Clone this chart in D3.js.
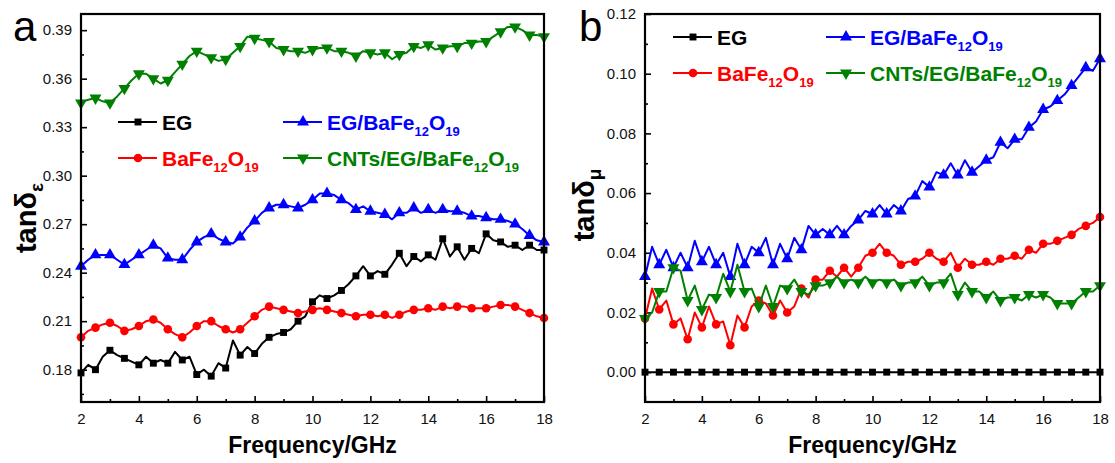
<!DOCTYPE html>
<html>
<head>
<meta charset="utf-8">
<script src="https://cdn.jsdelivr.net/npm/d3@7"></script>
<style>
  body { margin: 0; background: #fff; }
  text { font-family: Arial, "Liberation Sans", sans-serif; }
</style>
</head>
<body>
<svg width="1115" height="463"></svg>
<script>
const svg = d3.select('svg');

// frequency grid, GHz
const freq = d3.range(2, 18.001, 0.25);

const xTicks = [2, 4, 6, 8, 10, 12, 14, 16, 18];
const xMinor = [3, 5, 7, 9, 11, 13, 15, 17];
const epsTicks = [0.18, 0.21, 0.24, 0.27, 0.30, 0.33, 0.36, 0.39];
const epsMinor = [0.165, 0.195, 0.225, 0.255, 0.285, 0.315, 0.345, 0.375];
const muTicks = [0, 0.02, 0.04, 0.06, 0.08, 0.10, 0.12];
const muMinor = [0.01, 0.03, 0.05, 0.07, 0.09, 0.11];

// dielectric loss tangent (a)
const epsEG = [.178,.183,.180,.188,.192, .189,.187,.185,.183,.188, .184,.186,.184,.191,.186,
  .188,.177,.180,.176,.184, .181,.198,.189,.194,.190, .196,.200,.202,.203,.205,
  .210,.213,.222,.226,.224, .226,.229,.233,.238,.244, .238,.241,.239,.245,.252,
  .244,.250,.247,.251,.248, .261,.250,.256,.248,.255, .252,.264,.260,.259,.256,
  .257,.254,.257,.254,.254];
const epsBaFe = [.200,.204,.206,.208,.209, .207,.204,.205,.207,.210, .211,.209,.205,.202,.200,
  .203,.207,.210,.210,.207, .205,.203,.205,.209,.213, .217,.219,.218,.217,.216,
  .215,.216,.217,.218,.217, .216,.215,.214,.213,.214, .214,.213,.214,.212,.214,
  .216,.217,.217,.218,.217, .219,.218,.219,.219,.218, .218,.218,.219,.220,.220,
  .219,.217,.215,.213,.212];
const epsEGBaFe = [.244,.248,.251,.251,.251, .248,.245,.248,.251,.254, .257,.255,.249,.248,.248,
  .254,.259,.262,.264,.261, .259,.258,.262,.268,.272, .277,.280,.282,.282,.281,
  .280,.282,.285,.289,.289, .288,.285,.283,.279,.281, .278,.277,.276,.273,.277,
  .277,.280,.277,.279,.277, .279,.278,.278,.277,.275, .275,.274,.273,.273,.272,
  .270,.267,.263,.260,.259];
const epsCNT = [.345,.347,.348,.346,.345, .349,.354,.359,.363,.363, .360,.357,.359,.364,.369,
  .374,.377,.375,.373,.371, .372,.376,.380,.386,.385, .384,.383,.379,.378,.377,
  .377,.376,.378,.379,.379, .377,.377,.376,.374,.377, .376,.375,.376,.372,.375,
  .376,.380,.379,.381,.378, .379,.380,.380,.382,.382, .383,.383,.386,.389,.392,
  .392,.390,.387,.387,.386];

// magnetic loss tangent (b)
const muEG = [0,0,0,0,0, 0,0,0,0,0, 0,0,0,0,0, 0,0,0,0,0, 0,0,0,0,0, 0,0,0,0,0,
  0,0,0,0,0, 0,0,0,0,0, 0,0,0,0,0, 0,0,0,0,0, 0,0,0,0,0, 0,0,0,0,0, 0,0,0,0,0];
const muBaFe = [.018,.028,.021,.024,.016, .018,.011,.020,.015,.022, .016,.017,.009,.019,.015,
  .022,.024,.023,.019,.024, .020,.022,.028,.025,.031, .031,.034,.032,.035,.032,
  .035,.039,.040,.043,.040, .039,.036,.037,.037,.038, .040,.038,.037,.040,.035,
  .038,.036,.036,.037,.036, .038,.038,.039,.038,.041, .040,.043,.043,.044,.045,
  .046,.048,.049,.050,.052];
const muEGBaFe = [.032,.042,.036,.041,.035, .040,.035,.044,.037,.042, .036,.040,.032,.043,.036,
  .042,.040,.045,.036,.043, .038,.045,.041,.049,.046, .048,.046,.049,.046,.049,
  .051,.054,.053,.056,.053, .056,.054,.058,.059,.064, .062,.067,.066,.070,.066,
  .071,.067,.069,.071,.072, .077,.075,.078,.078,.082, .084,.088,.089,.091,.093,
  .096,.099,.102,.101,.105];
const muCNT = [.018,.020,.027,.027,.035, .034,.024,.029,.021,.026, .025,.033,.027,.036,.027,
  .028,.022,.029,.022,.029, .028,.031,.027,.026,.029, .029,.030,.032,.030,.031,
  .030,.032,.030,.031,.030, .031,.029,.030,.030,.032, .029,.030,.030,.033,.026,
  .030,.027,.027,.025,.027, .024,.025,.025,.024,.026, .025,.026,.025,.023,.023,
  .023,.025,.027,.027,.029];

const styles = {
  EG:     { color: '#000000', symbol: d3.symbolSquare,   size: 48, rot: 0,   label: [['EG', 0]] },
  BaFe:   { color: '#ff0000', symbol: d3.symbolCircle,   size: 58, rot: 0,   label: [['BaFe', 0], ['12', 1], ['O', 0], ['19', 1]] },
  EGBaFe: { color: '#0000ff', symbol: d3.symbolTriangle, size: 62, rot: 0,   label: [['EG/BaFe', 0], ['12', 1], ['O', 0], ['19', 1]] },
  CNT:    { color: '#008000', symbol: d3.symbolTriangle, size: 62, rot: 180, label: [['CNTs/EG/BaFe', 0], ['12', 1], ['O', 0], ['19', 1]] }
};

const marker = (sel, st, px, py) =>
  sel.append('path')
    .attr('d', d3.symbol().type(st.symbol).size(st.size)())
    .attr('transform', `translate(${px},${py}) rotate(${st.rot})`)
    .attr('fill', st.color);

const render = p => {
  const x = d3.scaleLinear().domain([2, 18]).range([p.left, p.right]);
  const y = d3.scaleLinear().domain(p.yDomain).range([p.bottom, p.top]);
  const g = svg.append('g');

  // axes
  g.append('g').attr('transform', `translate(0,${p.bottom})`)
    .call(d3.axisBottom(x).tickValues(xTicks).tickSize(-6).tickPadding(11).tickFormat(d3.format('d')));
  g.append('g').attr('transform', `translate(0,${p.bottom})`)
    .call(d3.axisBottom(x).tickValues(xMinor).tickSize(-3).tickFormat(''));
  g.append('g').attr('transform', `translate(${p.left},0)`)
    .call(d3.axisLeft(y).tickValues(p.ticks).tickSize(-6).tickPadding(9).tickFormat(d3.format('.2f')));
  g.append('g').attr('transform', `translate(${p.left},0)`)
    .call(d3.axisLeft(y).tickValues(p.minor).tickSize(-3).tickFormat(''));
  g.selectAll('.domain').remove();
  g.selectAll('.tick line').attr('stroke-width', 1.6);
  g.selectAll('.tick text').attr('font-size', 15).attr('fill', '#111');

  // data
  p.series.forEach(s => {
    const st = styles[s.key];
    const pts = s.values.map((v, i) => ({ f: freq[i], v }));
    g.append('path').datum(pts)
      .attr('d', d3.line().x(d => x(d.f)).y(d => y(d.v)))
      .attr('fill', 'none')
      .attr('stroke', st.color)
      .attr('stroke-width', 2)
      .attr('stroke-linejoin', 'round');
    pts.filter((d, i) => i % 2 === 0).forEach(d => marker(g, st, x(d.f), y(d.v)));
  });

  // frame
  g.append('rect')
    .attr('x', p.left).attr('y', p.top)
    .attr('width', p.right - p.left).attr('height', p.bottom - p.top)
    .attr('fill', 'none').attr('stroke', '#000').attr('stroke-width', 2.2);

  // legend
  p.legend.forEach(l => {
    const st = styles[l.key];
    g.append('line')
      .attr('x1', l.x).attr('x2', l.x + 39).attr('y1', l.y).attr('y2', l.y)
      .attr('stroke', st.color).attr('stroke-width', 2);
    marker(g, st, l.x + 20, l.y);
    const t = g.append('text')
      .attr('x', l.x + 44).attr('y', l.y + 7.5)
      .attr('fill', st.color)
      .attr('font-weight', 'bold')
      .attr('font-size', 21);
    let sub = 0;
    st.label.forEach(([str, s]) => {
      t.append('tspan')
        .attr('font-size', s ? 13 : 21)
        .attr('dy', s === sub ? 0 : (s ? 6 : -6))
        .text(str);
      sub = s;
    });
  });

  // axis titles
  g.append('text')
    .attr('x', (p.left + p.right) / 2).attr('y', 453)
    .attr('text-anchor', 'middle')
    .attr('font-weight', 'bold').attr('font-size', 23)
    .text('Frequency/GHz');

  const yl = g.append('text')
    .attr('transform', `translate(${p.yLabelX},${p.yLabelY}) rotate(-90)`)
    .attr('text-anchor', 'middle')
    .attr('font-weight', 'bold').attr('font-size', 29);
  yl.append('tspan').text('tanδ');
  yl.append('tspan').attr('font-size', 19).attr('dy', 7).text(p.sub);

  g.append('text')
    .attr('x', p.tagX).attr('y', 41)
    .attr('font-size', 42)
    .text(p.tag);
};

render({
  left: 81, right: 544, top: 14, bottom: 402,
  yDomain: [0.16, 0.40], ticks: epsTicks, minor: epsMinor,
  series: [
    { key: 'EG', values: epsEG },
    { key: 'BaFe', values: epsBaFe },
    { key: 'EGBaFe', values: epsEGBaFe },
    { key: 'CNT', values: epsCNT }
  ],
  legend: [
    { key: 'EG', x: 118, y: 122 },
    { key: 'BaFe', x: 118, y: 158 },
    { key: 'EGBaFe', x: 283, y: 122 },
    { key: 'CNT', x: 283, y: 158 }
  ],
  yLabelX: 36, yLabelY: 218, sub: 'ε',
  tag: 'a', tagX: 13
});

render({
  left: 645, right: 1100, top: 14, bottom: 402,
  yDomain: [-0.01, 0.12], ticks: muTicks, minor: muMinor,
  series: [
    { key: 'EG', values: muEG },
    { key: 'BaFe', values: muBaFe },
    { key: 'EGBaFe', values: muEGBaFe },
    { key: 'CNT', values: muCNT }
  ],
  legend: [
    { key: 'EG', x: 673, y: 37 },
    { key: 'BaFe', x: 673, y: 73 },
    { key: 'EGBaFe', x: 826, y: 37 },
    { key: 'CNT', x: 826, y: 73 }
  ],
  yLabelX: 594, yLabelY: 205, sub: 'μ',
  tag: 'b', tagX: 579
});
</script>
</body>
</html>
